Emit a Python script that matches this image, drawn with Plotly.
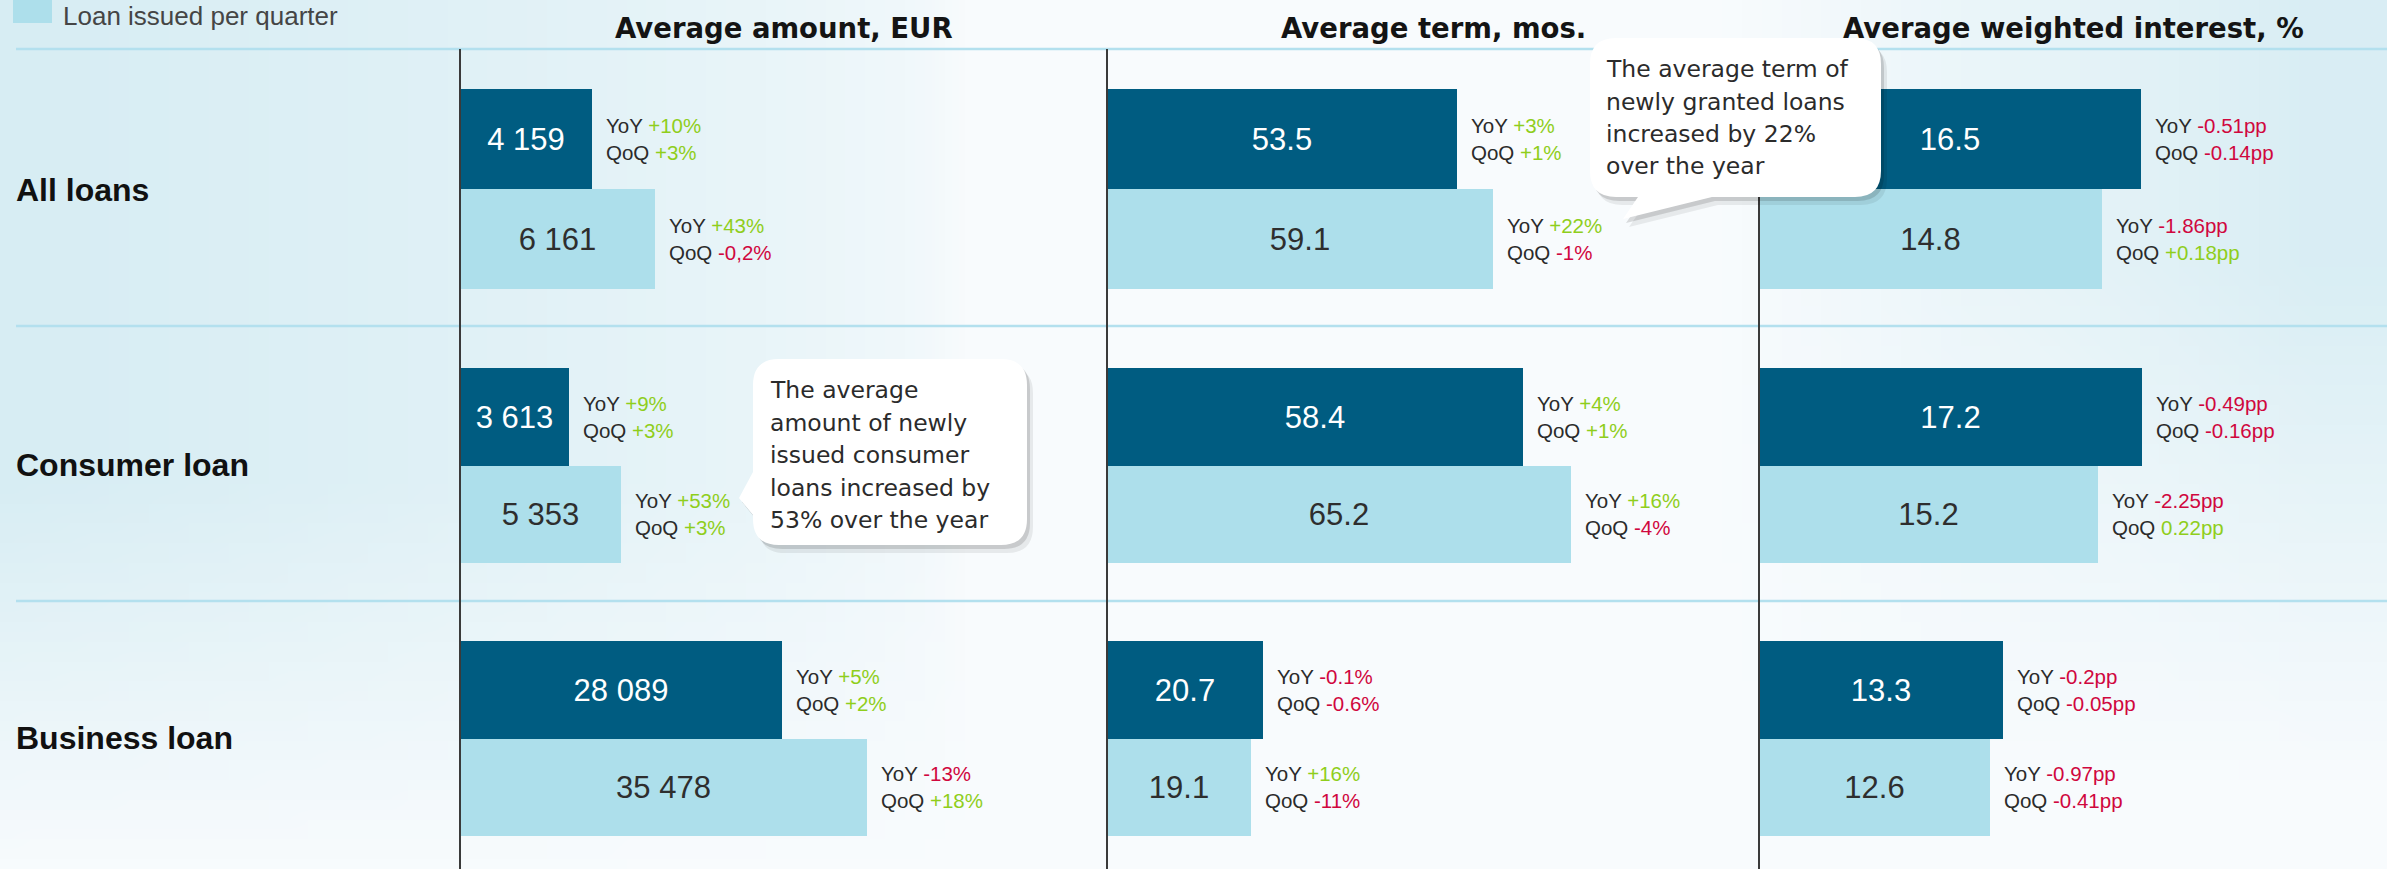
import base64
import struct
import zlib

import plotly.graph_objects as go

W, H = 2387, 869

# ---------------- data ----------------
metrics = ["Average amount, EUR", "Average term, mos.", "Average weighted interest, %"]
loan_types = ["All loans", "Consumer loan", "Business loan"]
series = ["Loan portfolio", "Loan issued per quarter"]

amount_portfolio = [4159, 3613, 28089]
amount_issued = [6161, 5353, 35478]
term_portfolio = [53.5, 58.4, 20.7]
term_issued = [59.1, 65.2, 19.1]
rate_portfolio = [16.5, 17.2, 13.3]
rate_issued = [14.8, 15.2, 12.6]

amount_portfolio_yoy = ["+10%", "+9%", "+5%"]
amount_portfolio_qoq = ["+3%", "+3%", "+2%"]
amount_issued_yoy = ["+43%", "+53%", "-13%"]
amount_issued_qoq = ["-0,2%", "+3%", "+18%"]
term_portfolio_yoy = ["+3%", "+4%", "-0.1%"]
term_portfolio_qoq = ["+1%", "+1%", "-0.6%"]
term_issued_yoy = ["+22%", "+16%", "+16%"]
term_issued_qoq = ["-1%", "-4%", "-11%"]
rate_portfolio_yoy = ["-0.51pp", "-0.49pp", "-0.2pp"]
rate_portfolio_qoq = ["-0.14pp", "-0.16pp", "-0.05pp"]
rate_issued_yoy = ["-1.86pp", "-2.25pp", "-0.97pp"]
rate_issued_qoq = ["+0.18pp", "0.22pp", "-0.41pp"]

callout_term = ["The average term of", "newly granted loans", "increased by 22%", "over the year"]
callout_amount = ["The average", "amount of newly", "issued consumer", "loans increased by", "53% over the year"]

# ---------------- layout constants ----------------
portfolio = [amount_portfolio, term_portfolio, rate_portfolio]
issued = [amount_issued, term_issued, rate_issued]
p_yoy = [amount_portfolio_yoy, term_portfolio_yoy, rate_portfolio_yoy]
p_qoq = [amount_portfolio_qoq, term_portfolio_qoq, rate_portfolio_qoq]
i_yoy = [amount_issued_yoy, term_issued_yoy, rate_issued_yoy]
i_qoq = [amount_issued_qoq, term_issued_qoq, rate_issued_qoq]

# each cell of the infographic has its own linear scale (row, column)
AXIS_MAX = [[20455, 99.8, 27.1], [21495, 91.6, 28.2], [56457, 86.5, 34.3]]
COL_PX = [(460, 1107), (1107, 1759), (1759, 2387)]
ROW_PX = [(89, 289), (368, 563), (641, 836)]
ROW_LABEL_Y = [190, 465, 738]

DARK = "#005C81"
LIGHT = "#ADDFEB"
GREEN = "#8FCE1C"
RED = "#D0073E"
TEXT = "#2B2B2B"
NUM_FONT = "Liberation Sans, Arial, sans-serif"


def fx(x):
    return x / W


def fy(y):
    return 1 - y / H


def fmt(v, col):
    if col == 0:
        return f"{v:,.0f}".replace(",", " ")
    return f"{v:.1f}"


def colored(s):
    c = RED if s.startswith("-") else GREEN
    return f"<span style='color:{c}'>{s}</span>"


# ---------------- background gradient (image) ----------------
def bg_png(w=120, h=44):
    cyan = (211, 235, 242)
    white = (248, 251, 253)
    rows = []
    for j in range(h):
        v = (j + 0.5) / h
        row = bytearray()
        for i in range(w):
            u = (i + 0.5) / w
            fv = min(1.0, max(0.0, 1 - max(0.0, v - 0.55) / 0.45))
            tl = 0.9 * (max(0.0, 1 - u / 0.4) ** 0.5) * fv
            gv = min(1.0, max(0.0, 1 - max(0.0, v - 0.3) / 0.6))
            tr = 0.85 * min(1.0, max(0.0, (u - 0.72) / 0.25)) * gv
            t = max(tl, tr)
            row += bytes(int(round(white[k] + (cyan[k] - white[k]) * t)) for k in range(3))
        rows.append(b"\x00" + bytes(row))
    raw = b"".join(rows)

    def chunk(tag, data):
        return struct.pack(">I", len(data)) + tag + data + struct.pack(">I", zlib.crc32(tag + data) & 0xFFFFFFFF)

    png = (b"\x89PNG\r\n\x1a\n" + chunk(b"IHDR", struct.pack(">IIBBBBB", w, h, 8, 2, 0, 0, 0))
           + chunk(b"IDAT", zlib.compress(raw, 9)) + chunk(b"IEND", b""))
    return "data:image/png;base64," + base64.b64encode(png).decode()


fig = go.Figure()
layout_axes = {}
annotations = []

for r in range(3):
    for c in range(3):
        k = r * 3 + c + 1
        xa = "x" if k == 1 else f"x{k}"
        ya = "y" if k == 1 else f"y{k}"
        vals = [portfolio[c][r], issued[c][r]]
        for s in range(2):
            fig.add_trace(go.Bar(
                x=[vals[s]], y=[series[s]], orientation="h", width=[1],
                marker=dict(color=DARK if s == 0 else LIGHT, line=dict(width=0)),
                text=[fmt(vals[s], c)], textposition="inside", insidetextanchor="middle",
                constraintext="none", textangle=0,
                textfont=dict(family=NUM_FONT, size=31, color="white" if s == 0 else "#2E2E2E"),
                name=series[s], showlegend=False, hoverinfo="skip",
                xaxis=xa, yaxis=ya,
            ))
        layout_axes["xaxis" if k == 1 else f"xaxis{k}"] = dict(
            domain=[fx(COL_PX[c][0]), fx(COL_PX[c][1])], range=[0, AXIS_MAX[r][c]],
            visible=False, fixedrange=True, anchor=ya)
        layout_axes["yaxis" if k == 1 else f"yaxis{k}"] = dict(
            domain=[fy(ROW_PX[r][1]), fy(ROW_PX[r][0])], range=[-0.5, 1.5],
            type="category", categoryorder="array", categoryarray=[series[1], series[0]],
            visible=False, fixedrange=True, anchor=xa)
        changes = [(p_yoy[c][r], p_qoq[c][r]), (i_yoy[c][r], i_qoq[c][r])]
        for s in range(2):
            yoy, qoq = changes[s]
            annotations.append(dict(
                x=vals[s], y=series[s], xref=xa, yref=ya, xanchor="left", yanchor="middle",
                xshift=12, align="left", showarrow=False,
                text=f"YoY {colored(yoy)}<br>QoQ {colored(qoq)}",
                font=dict(family=NUM_FONT, size=20.5, color=TEXT)))

# column headers
for c in range(3):
    annotations.append(dict(
        x=fx((COL_PX[c][0] + COL_PX[c][1]) / 2), y=fy(28), xref="paper", yref="paper",
        xanchor="center", yanchor="middle", showarrow=False,
        text=f"<b>{metrics[c]}</b>", font=dict(family="DejaVu Sans", size=27.5, color="#141414")))

# row labels
for r in range(3):
    annotations.append(dict(
        x=fx(14), y=fy(ROW_LABEL_Y[r]), xref="paper", yref="paper", xanchor="left",
        yanchor="middle", showarrow=False, text=f"<b>{loan_types[r]}</b>",
        font=dict(family="Liberation Sans, Arial", size=32, color="#111111")))

# legend entry (visible part)
annotations.append(dict(
    x=fx(62), y=1, xref="paper", yref="paper", xanchor="left", yanchor="top",
    showarrow=False, borderpad=0, text=series[1],
    font=dict(family="Liberation Sans, Arial", size=26, color="#454545")))

# callout texts, one annotation per line for the bubble's line spacing
for lines, x0, y0 in ((callout_term, 1604, 69), (callout_amount, 768, 390)):
    for i, line in enumerate(lines):
        annotations.append(dict(
            x=fx(x0), y=fy(y0 + i * 32.5), xref="paper", yref="paper", xanchor="left",
            yanchor="middle", align="left", showarrow=False, text=line,
            font=dict(family="DejaVu Sans", size=23.5, color=TEXT)))

# ---------------- shapes ----------------
shapes = []
SEP = "#B3E0EE"
for yy in (49, 326, 601):
    shapes.append(dict(type="line", xref="paper", yref="paper", x0=fx(16), x1=1, y0=fy(yy), y1=fy(yy),
                       line=dict(color=SEP, width=2.5), layer="below"))
for c in range(3):
    shapes.append(dict(type="line", xref="paper", yref="paper", x0=fx(COL_PX[c][0]), x1=fx(COL_PX[c][0]),
                       y0=fy(49), y1=0, line=dict(color="#3A3A3A", width=2), layer="above"))
shapes.append(dict(type="rect", xref="paper", yref="paper", x0=fx(13), x1=fx(52), y0=fy(23), y1=1.0,
                   fillcolor=LIGHT, line=dict(width=0), layer="above"))


def P(x, y, dx, dy):
    return f"{(x + dx) / W:.6f},{1 - (y + dy) / H:.6f}"


def bubble_term(dx=0, dy=0):
    L, T, R, B, rr = 1590, 38, 1881, 197, 26
    p = lambda x, y: P(x, y, dx, dy)
    return (f"M{p(L + rr, T)} L{p(R - rr, T)} Q{p(R, T)} {p(R, T + rr)} L{p(R, B - rr)} "
            f"Q{p(R, B)} {p(R - rr, B)} L{p(1712, B)} L{p(1623, 219)} L{p(1638, B)} "
            f"L{p(L + rr, B)} Q{p(L, B)} {p(L, B - rr)} L{p(L, T + rr)} Q{p(L, T)} {p(L + rr, T)} Z")


def bubble_amount(dx=0, dy=0):
    L, T, R, B, rr = 753, 359, 1027, 545, 26
    p = lambda x, y: P(x, y, dx, dy)
    return (f"M{p(L + rr, T)} L{p(R - rr, T)} Q{p(R, T)} {p(R, T + rr)} L{p(R, B - rr)} "
            f"Q{p(R, B)} {p(R - rr, B)} L{p(L + rr, B)} Q{p(L, B)} {p(L, B - rr)} "
            f"L{p(L, 515)} L{p(739, 498)} L{p(L, 472)} L{p(L, T + rr)} Q{p(L, T)} {p(L + rr, T)} Z")


for fn in (bubble_term, bubble_amount):
    shapes.append(dict(type="path", xref="paper", yref="paper", path=fn(6, 8),
                       fillcolor="rgba(0,0,0,0.07)", line=dict(width=0), layer="above"))
    shapes.append(dict(type="path", xref="paper", yref="paper", path=fn(3, 4),
                       fillcolor="rgba(0,0,0,0.13)", line=dict(width=0), layer="above"))
    shapes.append(dict(type="path", xref="paper", yref="paper", path=fn(),
                       fillcolor="white", line=dict(width=0), layer="above"))

fig.update_layout(
    width=W, height=H, margin=dict(l=0, r=0, t=0, b=0),
    paper_bgcolor="#F5F9FB", plot_bgcolor="rgba(0,0,0,0)",
    barmode="overlay", bargap=0, showlegend=False,
    annotations=annotations, shapes=shapes,
    images=[dict(source=bg_png(), xref="paper", yref="paper", x=0, y=1, sizex=1, sizey=1,
                 sizing="stretch", layer="below", xanchor="left", yanchor="top")],
    **layout_axes,
)

fig.write_html("out.html", config={"displayModeBar": False},
               post_script="document.body.style.margin='0';document.body.style.overflow='hidden';")
